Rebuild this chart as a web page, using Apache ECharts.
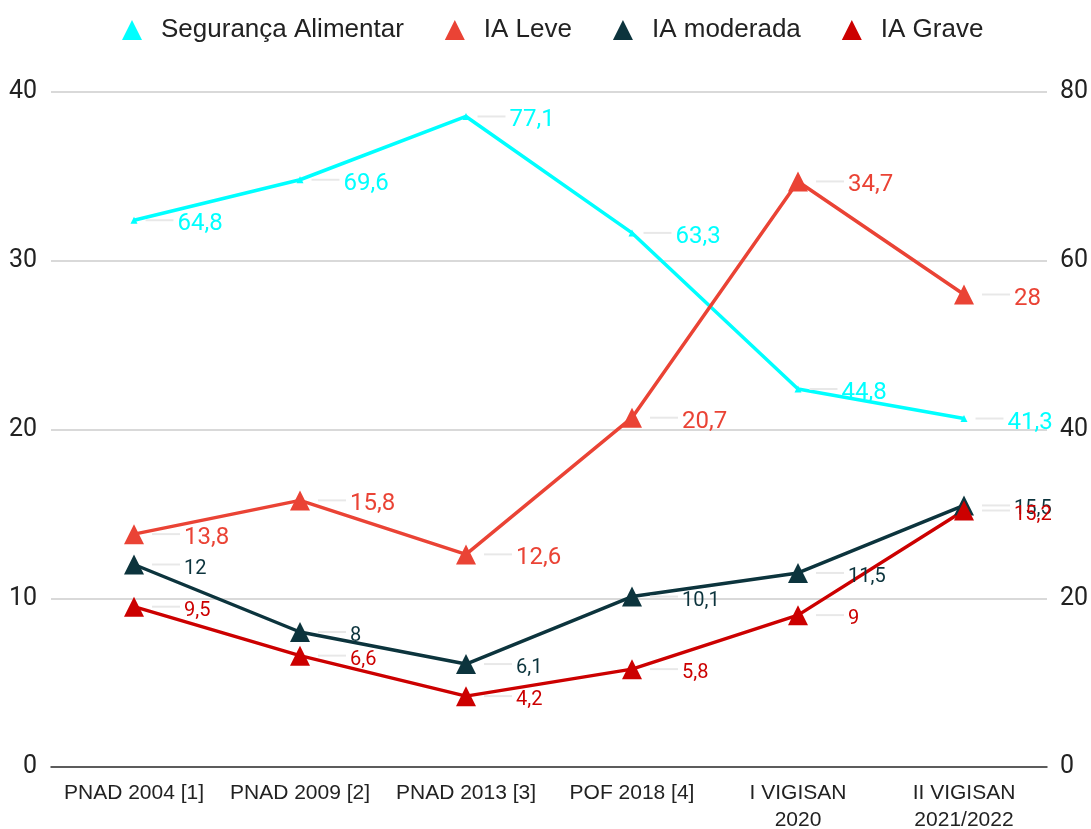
<!DOCTYPE html>
<html>
<head>
<meta charset="utf-8">
<script src="https://cdn.jsdelivr.net/npm/echarts@6/dist/echarts.min.js"></script>
<style>
	html, body {
		margin: 0;
		padding: 0;
		background: #fff;
	}
	#chart {
		width: 1091px;
		height: 829px;
	}
</style>
</head>
<body>
<div id="chart"></div>
<script>
	// dados
	var categorias = ['PNAD 2004 [1]', 'PNAD 2009 [2]', 'PNAD 2013 [3]', 'POF 2018 [4]', 'I VIGISAN\n2020', 'II VIGISAN\n2021/2022'];
	var seguranca = [64.8, 69.6, 77.1, 63.3, 44.8, 41.3];
	var iaLeve = [13.8, 15.8, 12.6, 20.7, 34.7, 28];
	var iaModerada = [12, 8, 6.1, 10.1, 11.5, 15.5];
	var iaGrave = [9.5, 6.6, 4.2, 5.8, 9, 15.2];

	var chart = echarts.init(document.getElementById('chart'));

	// rótulo com tracinho cinza antes do valor
	function rotulo(cor, tam) {
		return {
			show: true,
			position: 'right',
			distance: 8,
			formatter: function (p) {
				return '{ln|}{v|' + String(p.value).replace('.', ',') + '}';
			},
			rich: {
				ln: { width: 28, height: 2, backgroundColor: '#e8e8e8' },
				v: { color: cor, fontSize: tam, fontFamily: 'Roboto', padding: [8, 0, 0, 4] }
			}
		};
	}

	function serie(nome, dados, cor, eixo, simbolo, tamFonte) {
		return {
			name: nome,
			type: 'line',
			yAxisIndex: eixo,
			data: dados,
			symbol: 'triangle',
			symbolSize: simbolo,
			color: cor,
			lineStyle: { width: 3.5, color: cor },
			itemStyle: { color: cor },
			label: rotulo(cor, tamFonte),
			z: 2
		};
	}

	var option = {
		animation: false,
		legend: {
			top: 12,
			left: 117,
			icon: 'triangle',
			itemWidth: 20,
			itemHeight: 20,
			itemGap: 41,
			textStyle: { fontSize: 26, color: '#222', fontFamily: 'Liberation Sans', padding: [0, 0, 0, 14] }
		},
		grid: { left: 51, right: 44, top: 92, bottom: 62, outerBoundsMode: 'none', containLabel: false },
		xAxis: {
			type: 'category',
			data: categorias,
			boundaryGap: true,
			axisTick: { show: false },
			axisLine: { lineStyle: { color: '#333', width: 1.5 } },
			axisLabel: {
				interval: 0,
				fontSize: 21,
				color: '#222',
				fontFamily: 'Liberation Sans',
				margin: 13,
				lineHeight: 27
			}
		},
		yAxis: [{
			type: 'value',
			min: 0, max: 40, interval: 10,
			axisLabel: { fontSize: 25, color: '#222', fontFamily: 'Roboto', margin: 14 },
			splitLine: { lineStyle: { color: '#cccccc', width: 1.5 } }
		}, {
			type: 'value',
			min: 0, max: 80, interval: 20,
			axisLabel: { fontSize: 25, color: '#222', fontFamily: 'Roboto', margin: 13 },
			splitLine: { show: false }
		}],
		series: [
			serie('Segurança Alimentar', seguranca, '#00ffff', 1, 7, 24),
			serie('IA Leve', iaLeve, '#ea4335', 0, 20, 24),
			serie('IA moderada', iaModerada, '#0c343d', 0, 20, 20),
			serie('IA Grave', iaGrave, '#cc0000', 0, 20, 20)
		]
	};

	chart.setOption(option);
</script>
</body>
</html>
